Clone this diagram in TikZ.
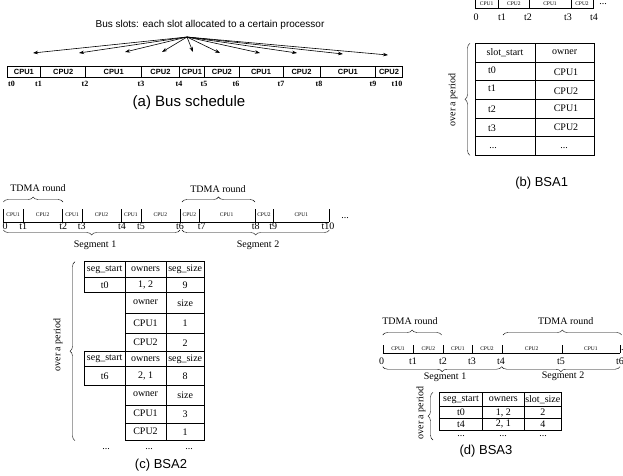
\documentclass[tikz,border=0pt]{standalone}
\usepackage{fontspec}
\setmainfont{Liberation Serif}
\setsansfont{Liberation Sans}
\usetikzlibrary{decorations.pathreplacing,arrows.meta}
\begin{document}
\begin{tikzpicture}[x=1pt,y=-1pt,
  capt/.style={font=\sffamily\fontsize{13}{13}\selectfont, inner sep=0pt},
  bcpu/.style={font=\sffamily\bfseries\fontsize{7.5}{8}\selectfont, inner sep=0pt},
  blab/.style={font=\bfseries\fontsize{8}{8}\selectfont, inner sep=0pt},
  tinycpu/.style={font=\fontsize{5.5}{6}\selectfont, inner sep=0pt},
  tlab/.style={font=\fontsize{10}{10}\selectfont, inner sep=0pt},
  cell/.style={font=\fontsize{10}{10}\selectfont, inner sep=0pt},
  brc/.style={decorate, decoration={brace, amplitude=5pt}},
  tbl/.style={line width=0.8pt},
  arr/.style={-{Stealth[length=5pt,width=3.5pt]}, line width=0.6pt}
]
\useasboundingbox (0,0) rectangle (623,475);

% ---------------- (a) Bus schedule ----------------
\node[font=\sffamily\fontsize{10}{10}\selectfont, inner sep=0pt] (title) at (210,25) {Bus slots: each slot allocated to a certain processor};
\coordinate (src) at (187,37);
\foreach \i/\px/\py in {1/33/53, 2/79/53, 3/125/52, 4/162/52, 5/193/52, 6/220/53, 7/260/53, 8/297/53, 9/343/54, 10/388/55}
  {\coordinate (tip\i) at (\px,\py); \draw[arr] (src) -- (tip\i);}
\draw[line width=0.8pt] (7,66.7) rectangle (402.3,77.7);
\foreach \x in {40.7,85.7,141.7,179.3,204.7,239,283,320,375.7}
  \draw[line width=0.8pt] (\x,66.7) -- (\x,77.7);
\foreach \i/\a/\b/\t in {1/7/40.7/CPU1, 2/40.7/85.7/CPU2, 3/85.7/141.7/CPU1, 4/141.7/179.3/CPU2, 5/179.3/204.7/CPU1, 6/204.7/239/CPU2, 7/239/283/CPU1, 8/283/320/CPU2, 9/320/375.7/CPU1, 10/375.7/402.3/CPU2}
  \node[bcpu] (sa\i) at ({(\a+\b)/2},72.4) {\t};
\foreach \i/\x in {0/11.5,1/38.5,2/85,3/141,4/179,5/204,6/236,7/281,8/319,9/373,10/397}
  \node[blab] (ta\i) at (\x,84) {t\i};
\node[capt, font=\sffamily\fontsize{15}{15}\selectfont] (capa) at (189,103) {(a) Bus schedule};

% ---------------- (b) BSA1 ----------------
\begin{scope}
\clip (440,0) rectangle (623,30);
\draw (475,-3) rectangle (593.3,8);
\foreach \x in {498.3,529.3,570.7} \draw (\x,-3) -- (\x,8);
\foreach \i/\a/\b/\t in {1/475/498.3/CPU1, 2/498.3/529.3/CPU2, 3/529.3/570.7/CPU1, 4/570.7/593.3/CPU2}
  \node[tinycpu] (sb\i) at ({(\a+\b)/2},3.5) {\t};
\node[tlab] (bdots) at (603,4) {...};
\end{scope}
\foreach \n/\x/\t in {0/476/0, 1/502/t1, 2/528/t2, 3/568/t3, 4/594/t4}
  \node[tlab] (tb\n) at (\x,17) {\t};
\draw[tbl] (475,43.3) rectangle (594.3,155.3);
\draw[tbl] (535,43.3) -- (535,155.3);
\foreach \y in {62,80.3,99.3,118.3,136.7} \draw[tbl] (475,\y) -- (594.3,\y);
\node[cell] (b00) at (505,52.5) {slot\_start};
\node[cell] (b01) at (564.7,52.5) {owner};
\foreach \i/\yl/\yr/\t/\c in {1/70/72/t0/CPU1, 2/88/91/t1/CPU2, 3/109/108/t2/CPU1, 4/128/127/t3/CPU2}
  {\node[cell] (bl\i) at (492,\yl) {\t}; \node[cell] (br\i) at (566,\yr) {\c};}
\node[cell] (bl5) at (493,148) {...};
\node[cell] (br5) at (564,148) {...};
\coordinate (bb1) at (470,155.3); \coordinate (bb2) at (470,43.3);
\draw[brc] (bb1) -- (bb2);
\node[cell, rotate=90] (bper) at (453,100) {over a period};
\node[capt] (capb) at (541.7,183) {(b) BSA1};

% ---------------- (c) BSA2 ----------------
\node[tlab] (tdc1) at (38,188) {TDMA round};
\coordinate (c1a) at (3.3,202); \coordinate (c1b) at (63,202);
\draw[brc] (c1a) -- (c1b);
\node[tlab] (tdc2) at (218,189) {TDMA round};
\coordinate (c2a) at (182,202); \coordinate (c2b) at (255,202);
\draw[brc] (c2a) -- (c2b);
\draw (3.3,221.7) -- (329.3,221.7);
\foreach \x in {3.3,23,62.2,81.9,121.1,140.8,180,198.7,254.7,273.3,329.3}
  \draw (\x,209) -- (\x,221.7);
\foreach \i/\a/\b/\t in {1/3.3/23/CPU1, 2/23/62.2/CPU2, 3/62.2/81.9/CPU1, 4/81.9/121.1/CPU2, 5/121.1/140.8/CPU1, 6/140.8/180/CPU2, 7/180/198.7/CPU2, 8/198.7/254.7/CPU1, 9/254.7/273.3/CPU2, 10/273.3/329.3/CPU1}
  \node[tinycpu] (sc\i) at ({(\a+\b)/2},215) {\t};
\node[tlab] (cdots) at (345,218) {...};
\foreach \n/\x/\t in {0/5/0, 1/23.3/t1, 2/63.3/t2, 3/81.7/t3, 4/122/t4, 5/141/t5, 6/180/t6, 7/201.7/t7, 8/255.7/t8, 9/273.3/t9, 10/328/t10}
  \node[tlab] (tc\n) at (\x,226.7) {\t};
\coordinate (s1a) at (180,230); \coordinate (s1b) at (3.3,230);
\draw[brc] (s1a) -- (s1b);
\node[tlab] (seg1c) at (95,245) {Segment 1};
\coordinate (s2a) at (329.3,230); \coordinate (s2b) at (182,230);
\draw[brc] (s2a) -- (s2b);
\node[tlab] (seg2c) at (258,245) {Segment 2};
% table
\draw[tbl] (84.3,261.7) rectangle (204.3,292.3);
\draw[tbl] (84.3,277.3) -- (204.3,277.3);
\draw[tbl] (125,261.7) -- (125,292.3);
\draw[tbl] (166,261.7) -- (166,292.3);
\draw[tbl] (125,292.3) rectangle (204.3,351.7);
\draw[tbl] (166,292.3) -- (166,351.7);
\foreach \y in {313.3,333.3} \draw[tbl] (125,\y) -- (204.3,\y);
\draw[tbl] (84.3,351.7) rectangle (204.3,385);
\draw[tbl] (84.3,366.7) -- (204.3,366.7);
\draw[tbl] (125,351.7) -- (125,385);
\draw[tbl] (166,351.7) -- (166,385);
\draw[tbl] (125,385) rectangle (204.3,440.7);
\draw[tbl] (166,385) -- (166,440.7);
\foreach \y in {405,423.3} \draw[tbl] (125,\y) -- (204.3,\y);
\node[cell] (c00) at (104.7,269.5) {seg\_start};
\node[cell] (c01) at (145.5,269.5) {owners};
\node[cell] (c02) at (185.2,269.5) {seg\_size};
\node[cell] (c10) at (104.7,285) {t0};
\node[cell] (c11) at (145.5,285) {1, 2};
\node[cell] (c12) at (185.2,285) {9};
\node[cell] (c20) at (145.5,302.5) {owner};
\node[cell] (c21) at (185.2,303) {size};
\node[cell] (c30) at (145.5,323) {CPU1};
\node[cell] (c31) at (185.2,323.5) {1};
\node[cell] (c40) at (145.5,342) {CPU2};
\node[cell] (c41) at (185.2,343) {2};
\node[cell] (c50) at (104.7,359) {seg\_start};
\node[cell] (c51) at (145.5,359) {owners};
\node[cell] (c52) at (185.2,359) {seg\_size};
\node[cell] (c60) at (104.7,376) {t6};
\node[cell] (c61) at (145.5,376) {2, 1};
\node[cell] (c62) at (185.2,376) {8};
\node[cell] (c70) at (145.5,394) {owner};
\node[cell] (c71) at (185.2,395) {size};
\node[cell] (c80) at (145.5,413.5) {CPU1};
\node[cell] (c81) at (185.2,414) {3};
\node[cell] (c90) at (145.5,431.5) {CPU2};
\node[cell] (c91) at (185.2,432) {1};
\node[cell] (cd1) at (106,449) {...};
\node[cell] (cd2) at (149,449) {...};
\node[cell] (cd3) at (189,449) {...};
\coordinate (cb1) at (75,440.7); \coordinate (cb2) at (75,261.7);
\draw[brc] (cb1) -- (cb2);
\node[cell, rotate=90] (cper) at (58,345) {over a period};
\node[capt] (capc) at (161,465) {(c) BSA2};

% ---------------- (d) BSA3 ----------------
\node[tlab] (tdd1) at (410,320.7) {TDMA round};
\coordinate (d1a) at (382.7,335); \coordinate (d1b) at (441.7,335);
\draw[brc] (d1a) -- (d1b);
\node[tlab] (tdd2) at (565.7,320.7) {TDMA round};
\coordinate (d2a) at (503,335); \coordinate (d2b) at (621.7,335);
\draw[brc] (d2a) -- (d2b);
\draw (382.7,353.3) -- (620,353.3);
\foreach \x in {382.7,413.3,443.3,472.3,501.7,561.7,620}
  \draw (\x,345) -- (\x,353.3);
\foreach \i/\a/\b/\t in {1/382.7/413.3/CPU1, 2/413.3/443.3/CPU2, 3/443.3/472.3/CPU1, 4/472.3/501.7/CPU2, 5/501.7/561.7/CPU2, 6/561.7/620/CPU1}
  \node[tinycpu] (sd\i) at ({(\a+\b)/2},348.5) {\t};
\node[tlab, anchor=west] (ddots) at (621,350) {...};
\foreach \n/\x/\t in {0/381.7/0, 1/413/t1, 2/443/t2, 3/472/t3, 4/501/t4, 5/561/t5, 6/620/t6}
  \node[tlab] (td\n) at (\x,361.7) {\t};
\coordinate (e1a) at (501.7,366.7); \coordinate (e1b) at (382.7,366.7);
\draw[brc] (e1a) -- (e1b);
\node[tlab] (seg1d) at (445,377) {Segment 1};
\coordinate (e2a) at (620,366.7); \coordinate (e2b) at (501.7,366.7);
\draw[brc] (e2a) -- (e2b);
\node[tlab] (seg2d) at (563,376) {Segment 2};
\draw[tbl] (439.3,392.3) rectangle (561.7,430);
\foreach \y in {406.7,418.3} \draw[tbl] (439.3,\y) -- (561.7,\y);
\foreach \x in {482.7,524} \draw[tbl] (\x,392.3) -- (\x,430);
\node[cell] (d00) at (461,399.5) {seg\_start};
\node[cell] (d01) at (503.3,399.5) {owners};
\node[cell] (d02) at (542.8,399.5) {slot\_size};
\node[cell] (d10) at (461,412.5) {t0};
\node[cell] (d11) at (503.3,412.5) {1, 2};
\node[cell] (d12) at (542.8,412.5) {2};
\node[cell] (d20) at (461,424) {t4};
\node[cell] (d21) at (503.3,424) {2, 1};
\node[cell] (d22) at (542.8,424) {4};
\node[cell] (dd1) at (461,436) {...};
\node[cell] (dd2) at (503,436) {...};
\node[cell] (dd3) at (543,436) {...};
\coordinate (db1) at (433,440); \coordinate (db2) at (433,392.3);
\draw[brc] (db1) -- (db2);
\node[cell, rotate=90] (dper) at (421,413) {over a period};
\node[capt] (capd) at (486,451) {(d) BSA3};
\end{tikzpicture}
\end{document}
